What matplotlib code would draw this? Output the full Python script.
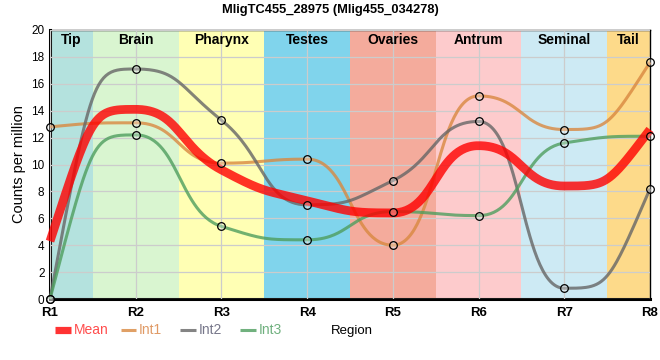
import numpy as np
import matplotlib
matplotlib.use("Agg")
import matplotlib.pyplot as plt
from matplotlib.lines import Line2D

plt.rcParams["font.family"] = ["Liberation Sans", "DejaVu Sans"]

regions = ["R1", "R2", "R3", "R4", "R5", "R6", "R7", "R8"]
band_names = ["Tip", "Brain", "Pharynx", "Testes", "Ovaries", "Antrum", "Seminal", "Tail"]
band_edges = [0, 0.5, 1.5, 2.5, 3.5, 4.5, 5.5, 6.5, 7]
band_colors = ["#b4e2de", "#d9f5d0", "#ffffb4", "#80d4ec", "#f4ab9c", "#fdcbcc", "#cdeaf4", "#fdda8a"]

mean = [4.3, 14.1, 9.6, 7.3, 6.4, 11.4, 8.4, 12.6]
int1 = [12.8, 13.1, 10.1, 10.4, 4.0, 15.1, 12.6, 17.6]
int2 = [0.0, 17.1, 13.3, 7.0, 8.8, 13.2, 0.8, 8.2]
int3 = [0.0, 12.2, 5.4, 4.4, 6.5, 6.2, 11.6, 12.1]


def smooth(xs, ys, n=60, k=0.5):
    """Bezier spline with horizontal handles of length k*h, tangents clamped
    so that control points never leave the range of the segment."""
    xs = np.asarray(xs, float)
    ys = np.asarray(ys, float)
    h = np.diff(xs)
    s = np.diff(ys) / h
    N = len(ys)
    m = np.zeros(N)
    for i in range(1, N - 1):
        if s[i - 1] * s[i] > 0:
            avg = 0.5 * (s[i - 1] + s[i])
            lim = min(abs(s[i - 1]), abs(s[i])) / k
            m[i] = np.sign(avg) * min(abs(avg), lim)
    m[0] = 2 * s[0] - m[1]
    m[-1] = 2 * s[-1] - m[-2]
    for i in (0, N - 1):
        j = 0 if i == 0 else N - 2
        lo, hi = sorted((0.0, s[j] / k))
        m[i] = min(max(m[i], lo), hi)
    X, Y = [], []
    t = np.linspace(0, 1, n)
    for i in range(N - 1):
        x0, x1 = xs[i], xs[i + 1]
        y0, y1 = ys[i], ys[i + 1]
        cx1, cy1 = x0 + k * h[i], y0 + k * h[i] * m[i]
        cx2, cy2 = x1 - k * h[i], y1 - k * h[i] * m[i + 1]
        b0, b1, b2, b3 = (1 - t) ** 3, 3 * (1 - t) ** 2 * t, 3 * (1 - t) * t ** 2, t ** 3
        X.append(b0 * x0 + b1 * cx1 + b2 * cx2 + b3 * x1)
        Y.append(b0 * y0 + b1 * cy1 + b2 * cy2 + b3 * y1)
    return np.concatenate(X), np.concatenate(Y)


W, H = 660, 360
fig = plt.figure(figsize=(W / 100, H / 100), dpi=100)
ax = fig.add_axes([50 / W, 61 / H, 600 / W, 269 / H])
x = np.arange(len(regions))

for i, (nm, c) in enumerate(zip(band_names, band_colors)):
    ax.axvspan(band_edges[i], band_edges[i + 1], color=c, lw=0, zorder=0)
    ax.text((band_edges[i] + band_edges[i + 1]) / 2, 19.25, nm, ha="center", va="center",
            fontsize=10, fontweight="bold", zorder=5)

ax.set_xlim(0, 7)
ax.set_ylim(0, 20)
ax.set_yticks(range(0, 21, 2))
ax.set_xticks(x)
ax.set_xticklabels(regions, fontweight="bold", fontsize=9.5)
ax.tick_params(axis="y", labelsize=8.5, length=0, pad=4)
ax.tick_params(axis="x", length=0, pad=6)
ax.grid(True, color="#cccccc", lw=0.9, zorder=1)
ax.set_axisbelow(False)

series = [
    ("Int1", int1, "#d98840", 2.2),
    ("Int2", int2, "#666666", 2.2),
    ("Int3", int3, "#4e9e5e", 2.2),
    ("Mean", mean, "#ff0000", 6.3),
]
for name, vals, col, lw in series:
    xs, ys = smooth(x, vals)
    ax.plot(xs, ys, color=col, lw=lw, alpha=0.8, zorder=3, solid_capstyle="butt", clip_on=False)
for name, vals, col, lw in series:
    if name != "Mean":
        ax.plot(x, vals, "o", ms=5.5, mec="black", mew=0.9,
                zorder=6, clip_on=False, markerfacecolor=(1, 1, 1, 0.3))

for sp in ["left", "bottom"]:
    ax.spines[sp].set_linewidth(2.2)
for sp in ["top", "right"]:
    ax.spines[sp].set_linewidth(1.0)

ax.set_ylabel("Counts per million", fontsize=10.5, labelpad=4)
fig.suptitle("MligTC455_28975 (Mlig455_034278)", x=0.5, y=0.99, fontsize=9.3, fontweight="bold")

# manual legend (pixel positions)
leg_y = 1 - 330 / H
leg_items = [
    ("Mean", 55, 71, 74, "#ff0000", 5.2, "#ff4d4d"),
    ("Int1", 121, 136, 139, "#d98840", 2.2, "#e09a66"),
    ("Int2", 180, 196, 199, "#666666", 2.2, "#77778a"),
    ("Int3", 240, 256, 259, "#4e9e5e", 2.2, "#6fb07e"),
]
for label, x0, x1, tx, col, lw, tcol in leg_items:
    fig.add_artist(Line2D([x0 / W, x1 / W], [leg_y, leg_y], color=col, lw=lw, alpha=0.8,
                          solid_capstyle="butt", transform=fig.transFigure))
    fig.text(tx / W, leg_y, label, color=tcol, fontsize=10, va="center", ha="left")
fig.text(331 / W, 1 - 331 / H, "Region", fontsize=9.5, va="center", ha="left")

fig.savefig("out.png", dpi=100)
